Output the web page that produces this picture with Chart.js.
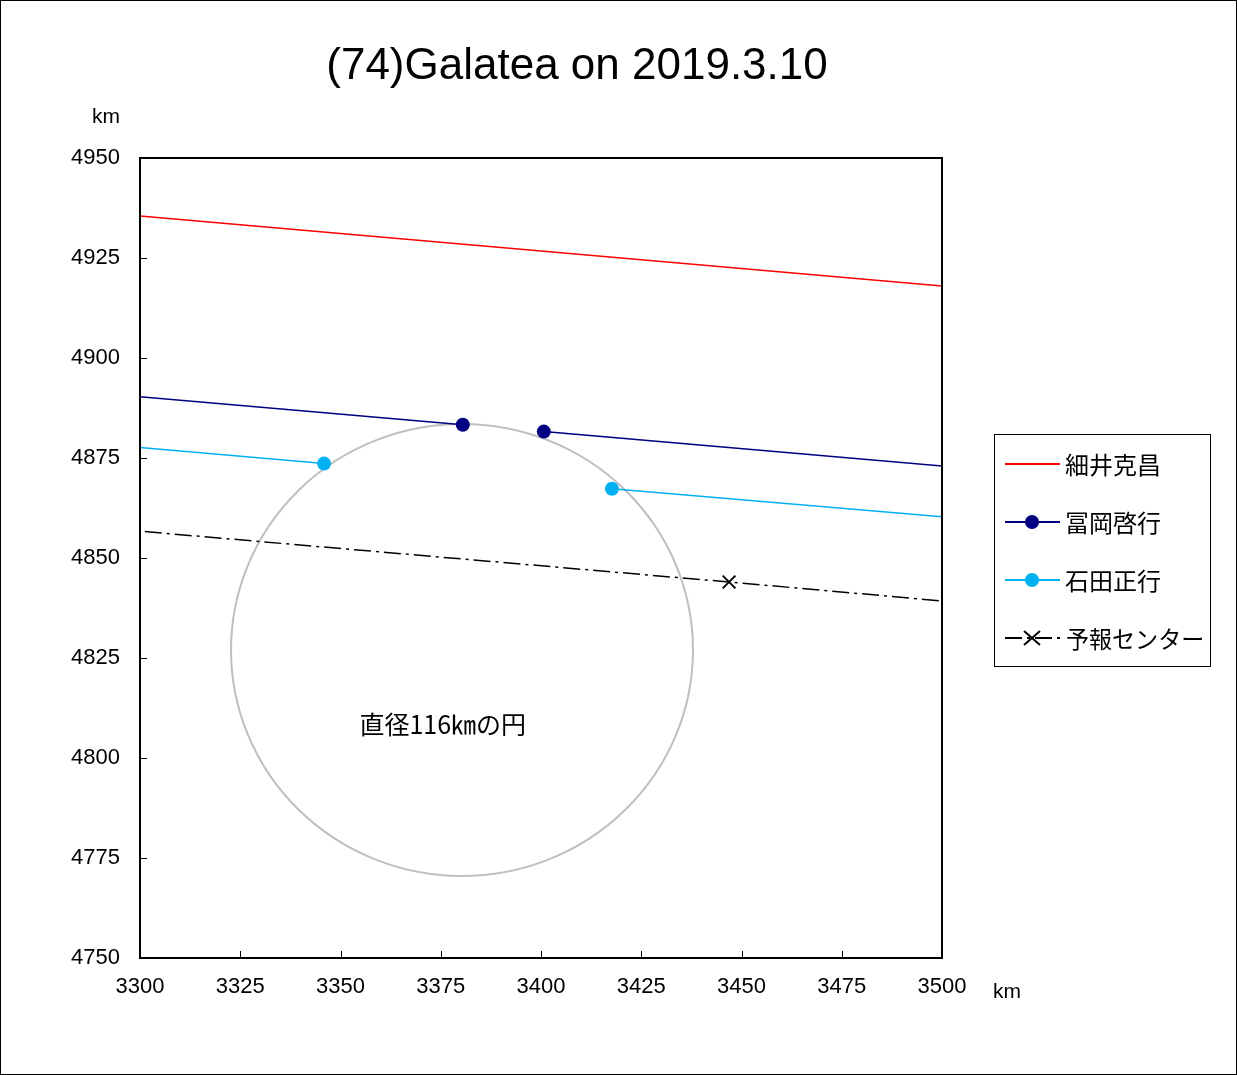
<!DOCTYPE html>
<html>
<head>
<meta charset="utf-8">
<script src="https://cdn.jsdelivr.net/npm/chart.js@4.4.0/dist/chart.umd.min.js"></script>
<style>
  html, body { margin: 0; padding: 0; background: #fff; }
  #wrap { width: 1237px; height: 1075px; }
</style>
</head>
<body>
<div id="wrap"><canvas id="chart" width="1237" height="1075"></canvas></div>
<script>
// 観測データ (km)
const chartTitle = "(74)Galatea on 2019.3.10";
const xTicks = [3300, 3500, 25];
const yTicks = [4750, 4950, 25];

const hosoiX = [3300, 3500];
const hosoiY = [4935.5, 4918.0];

const tomiokaX = [3300, 3380.5, null, 3400.7, 3500];
const tomiokaY = [4890.3, 4883.3, null, 4881.6, 4873.0];
const tomiokaMark = [0, 1, 0, 1, 0];

const ishidaX = [3300, 3345.9, null, 3417.7, 3500];
const ishidaY = [4877.6, 4873.6, null, 4867.3, 4860.3];
const ishidaMark = [0, 1, 0, 1, 0];

const centerX = [3301.2, 3446.9, 3499.5];
const centerY = [4856.6, 4844.0, 4839.3];
const centerMark = [0, 1, 0];

// 直径116kmの円
const circleCenter = [3380.3, 4827.0];
const circleRadius = [57.6, 56.5];
const circleLabel = "直径116㎞の円";
const circleLabelPos = [3375.5, 4808.3];

const names = ["細井克昌", "冨岡啓行", "石田正行", "予報センター"];
const colors = ["#FF0000", "#000080", "#00B0F0", "#000000"];
const dashCenter = [17, 5, 3, 5];

const FONT = '"Liberation Sans", "Noto Sans CJK JP", sans-serif';
const JFONT = '"Noto Sans CJK JP", sans-serif';

function toPoints(xs, ys) {
  return xs.map((x, i) => ({ x: x, y: ys[i] }));
}

// 円・枠・凡例など
const decor = {
  id: "decor",
  beforeDatasetsDraw(chart) {
    const ctx = chart.ctx;
    const sx = chart.scales.x, sy = chart.scales.y;
    const cx = sx.getPixelForValue(circleCenter[0]);
    const cy = sy.getPixelForValue(circleCenter[1]);
    const rx = sx.getPixelForValue(circleCenter[0] + circleRadius[0]) - cx;
    const ry = cy - sy.getPixelForValue(circleCenter[1] + circleRadius[1]);
    ctx.save();
    ctx.strokeStyle = "#BFBFBF";
    ctx.lineWidth = 2;
    ctx.beginPath();
    ctx.ellipse(cx, cy, rx, ry, 0, 0, Math.PI * 2);
    ctx.stroke();
    ctx.fillStyle = "#000";
    ctx.font = "25px " + JFONT;
    ctx.textAlign = "center";
    ctx.textBaseline = "middle";
    ctx.fillText(circleLabel, sx.getPixelForValue(circleLabelPos[0]), sy.getPixelForValue(circleLabelPos[1]));
    ctx.restore();
  },
  afterDraw(chart) {
    const ctx = chart.ctx;
    const a = chart.chartArea;
    const sx = chart.scales.x, sy = chart.scales.y;
    ctx.save();
    // 外枠
    ctx.strokeStyle = "#000";
    ctx.lineWidth = 1;
    ctx.strokeRect(0.5, 0.5, chart.width - 1, chart.height - 1);
    // プロット枠
    ctx.lineWidth = 2;
    ctx.strokeRect(a.left, a.top, a.right - a.left, a.bottom - a.top);
    // 内向き目盛
    ctx.lineWidth = 1;
    ctx.beginPath();
    sx.ticks.forEach(t => {
      const px = Math.round(sx.getPixelForValue(t.value)) + 0.5;
      ctx.moveTo(px, a.bottom);
      ctx.lineTo(px, a.bottom - 7);
    });
    sy.ticks.forEach(t => {
      const py = Math.round(sy.getPixelForValue(t.value)) + 0.5;
      ctx.moveTo(a.left, py);
      ctx.lineTo(a.left + 7, py);
    });
    ctx.stroke();
    // タイトル
    ctx.fillStyle = "#000";
    ctx.font = "44px " + FONT;
    ctx.textAlign = "center";
    ctx.textBaseline = "middle";
    ctx.fillText(chartTitle, 577, 67);
    // 単位
    ctx.font = "21px " + FONT;
    ctx.fillText("km", 106, 117);
    ctx.fillText("km", 1007, 992);
    // 凡例
    ctx.lineWidth = 1;
    ctx.strokeRect(994.5, 434.5, 216, 232);
    ctx.font = "24px " + JFONT;
    ctx.textAlign = "left";
    names.forEach((n, i) => {
      const y = 464 + i * 58;
      ctx.strokeStyle = colors[i];
      ctx.lineWidth = 2;
      ctx.setLineDash(i === 3 ? dashCenter : []);
      ctx.beginPath();
      ctx.moveTo(1005, y);
      ctx.lineTo(1060, y);
      ctx.stroke();
      ctx.setLineDash([]);
      if (i === 1 || i === 2) {
        ctx.fillStyle = colors[i];
        ctx.beginPath();
        ctx.arc(1032, y, 7, 0, Math.PI * 2);
        ctx.fill();
      }
      if (i === 3) {
        ctx.beginPath();
        ctx.moveTo(1024, y - 7); ctx.lineTo(1040, y + 7);
        ctx.moveTo(1040, y - 7); ctx.lineTo(1024, y + 7);
        ctx.stroke();
      }
      ctx.fillStyle = "#000";
      if (i === 3) {
        ctx.save();
        ctx.translate(1066, y + 1);
        ctx.scale(0.96, 1);
        ctx.fillText(n, 0, 0);
        ctx.restore();
      } else {
        ctx.fillText(n, 1065, y + 1);
      }
    });
    ctx.restore();
  }
};

const chart = new Chart(document.getElementById("chart"), {
  type: "scatter",
  data: {
    datasets: [
      {
        label: names[0],
        data: toPoints(hosoiX, hosoiY),
        showLine: true,
        borderColor: colors[0],
        borderWidth: 1.5,
        pointRadius: 0,
      },
      {
        label: names[1],
        data: toPoints(tomiokaX, tomiokaY),
        showLine: true,
        spanGaps: false,
        borderColor: colors[1],
        backgroundColor: colors[1],
        borderWidth: 1.5,
        pointRadius: tomiokaMark.map(m => m ? 7 : 0),
        pointBorderWidth: 0,
      },
      {
        label: names[2],
        data: toPoints(ishidaX, ishidaY),
        showLine: true,
        spanGaps: false,
        borderColor: colors[2],
        backgroundColor: colors[2],
        borderWidth: 1.5,
        pointRadius: ishidaMark.map(m => m ? 7 : 0),
        pointBorderWidth: 0,
      },
      {
        label: names[3],
        data: toPoints(centerX, centerY),
        showLine: true,
        borderColor: colors[3],
        borderWidth: 1.5,
        borderDash: dashCenter,
        pointStyle: "crossRot",
        pointRadius: centerMark.map(m => m ? 9 : 0),
        pointBorderWidth: 2,
        pointBorderColor: colors[3],
      },
    ],
  },
  options: {
    responsive: false,
    animation: false,
    events: [],
    layout: {
      padding: { top: 158, right: 295, left: 0, bottom: 0 },
    },
    plugins: {
      legend: { display: false },
      tooltip: { enabled: false },
      title: { display: false },
    },
    scales: {
      x: {
        type: "linear",
        min: xTicks[0],
        max: xTicks[1],
        grid: { display: false, drawTicks: false },
        border: { display: false },
        ticks: {
          stepSize: xTicks[2],
          padding: 16,
          color: "#000",
          font: { family: FONT, size: 22 },
          maxRotation: 0,
          callback: v => String(v),
        },
        afterFit(s) { s.height = 117; },
      },
      y: {
        type: "linear",
        min: yTicks[0],
        max: yTicks[1],
        grid: { display: false, drawTicks: false },
        border: { display: false },
        ticks: {
          stepSize: yTicks[2],
          padding: 20,
          color: "#000",
          font: { family: FONT, size: 22 },
          callback: v => String(v),
        },
        afterFit(s) { s.width = 140; },
      },
    },
  },
  plugins: [decor],
});
</script>
</body>
</html>
